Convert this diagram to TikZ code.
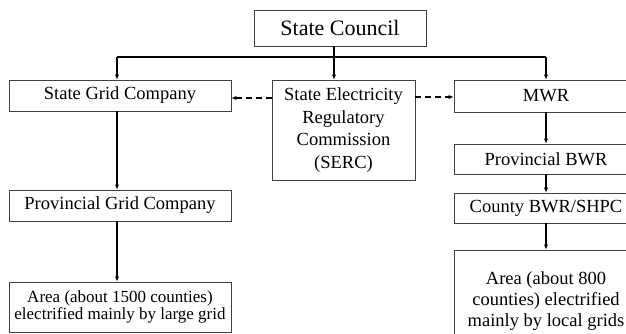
\documentclass[tikz,border=0pt]{standalone}
\usepackage{fontspec}
\setmainfont{Liberation Serif}
\usetikzlibrary{arrows.meta}
\begin{document}
\begin{tikzpicture}[x=1pt,y=-1pt,
  box/.style={draw=black!75,line width=0.9pt,inner sep=0pt,align=center,
    font=\fontsize{18.5}{22.5}\selectfont},
  conn/.style={line width=1.6pt,-{Latex[length=5pt,width=4.5pt]}},
  plain/.style={line width=1.6pt},
  dasharrow/.style={line width=1.5pt,dash pattern=on 6pt off 4pt,-{Latex[length=5pt,width=4.5pt]}}]
\useasboundingbox (0,0) rectangle (626,333);
\clip (0,0) rectangle (626,333);
\node[box,minimum width=172pt,minimum height=36pt,font=\fontsize{22}{26}\selectfont] (sc) at (340,28) {State Council};
\node[box,minimum width=222pt,minimum height=31pt] (sgc) at (120,95.5) {State Grid Company};
\node[box,minimum width=143pt,minimum height=100pt] (serc) at (343.5,130) {State Electricity\\Regulatory\\Commission\\(SERC)};
\node[box,minimum width=184pt,minimum height=32pt] (mwr) at (546,96) {MWR};
\node[box,minimum width=184pt,minimum height=30pt] (pbwr) at (546,159) {Provincial BWR};
\node[box,minimum width=184pt,minimum height=30pt] (cbwr) at (546,208) {County BWR/SHPC};
\node[box,minimum width=184pt,minimum height=102pt,font=\fontsize{18.5}{21}\selectfont] (a800) at (546,301) {Area (about 800\\counties) electrified\\mainly by local grids};
\node[box,minimum width=222pt,minimum height=31pt] (pgc) at (120,205.5) {Provincial Grid Company};
\node[box,minimum width=222pt,minimum height=50pt,font=\fontsize{17}{17.5}\selectfont] (a1500) at (120,307) {Area (about 1500 counties)\\electrified mainly by large grid};
\coordinate (lx) at (117,57);
\coordinate (cx) at (334,57);
\coordinate (rx) at (546,57);
\draw[plain] (sc.south -| cx) -- (cx);
\draw[plain] (lx) -- (rx);
\draw[conn] (lx) -- (lx |- sgc.north);
\draw[conn] (cx) -- (cx |- serc.north);
\draw[conn] (rx) -- (rx |- mwr.north);
\draw[conn] (lx |- sgc.south) -- (lx |- pgc.north);
\draw[conn] (lx |- pgc.south) -- (lx |- a1500.north);
\draw[conn] (rx |- mwr.south) -- (rx |- pbwr.north);
\draw[conn] (rx |- pbwr.south) -- (rx |- cbwr.north);
\draw[conn] (rx |- cbwr.south) -- (rx |- a800.north);
\draw[dasharrow] ([yshift=-2.5pt]serc.west |- sgc.east) -- ([yshift=-2.5pt]sgc.east);
\draw[dasharrow] ([yshift=-1pt]serc.east |- mwr.west) -- ([yshift=-1pt]mwr.west);
\end{tikzpicture}
\end{document}
